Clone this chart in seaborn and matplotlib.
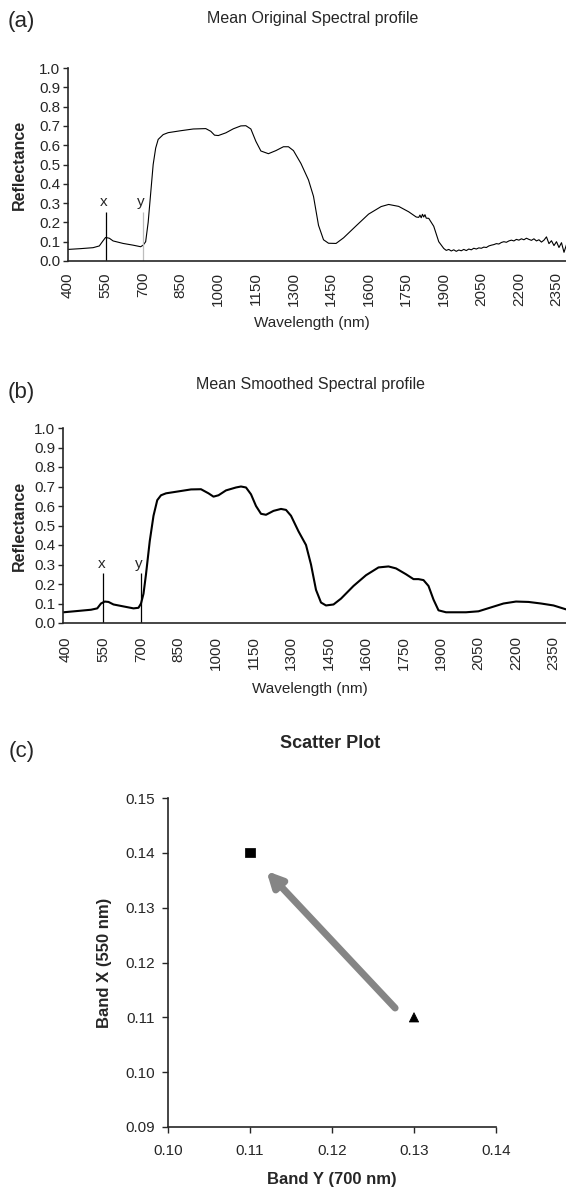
import matplotlib
matplotlib.use('Agg')
import matplotlib.pyplot as plt
import matplotlib.ticker
import pandas as pd
import seaborn as sns

# ---- data ----
wavelength_orig = [400, 450, 500, 525, 540, 550, 565, 580, 620, 660, 690, 700, 710, 720, 730, 740, 750, 760,
                   780, 800, 850, 900, 950, 970, 985, 1000, 1030, 1060, 1090, 1110, 1130, 1150, 1170, 1200,
                   1230, 1260, 1280, 1300, 1330, 1360, 1380, 1400, 1420, 1440, 1470, 1500, 1550, 1600, 1650,
                   1680, 1720, 1760, 1790, 1800, 1805, 1810, 1815, 1820, 1825, 1830, 1840, 1860, 1880,
                   1900, 1910, 1920, 1930, 1940, 1950, 1960, 1970, 1980, 1990, 2000, 2010, 2020, 2030, 2040,
                   2050, 2060, 2070, 2080, 2090, 2100, 2110, 2120, 2130, 2140, 2150, 2160, 2170, 2180, 2190,
                   2200, 2210, 2220, 2230, 2240, 2250, 2260, 2270, 2280, 2290, 2300, 2310, 2320, 2330, 2340,
                   2350, 2360, 2370, 2380, 2390]
reflect_orig = [0.060, 0.064, 0.069, 0.078, 0.105, 0.122, 0.118, 0.104, 0.091, 0.082, 0.074, 0.082, 0.100,
                0.200, 0.350, 0.500, 0.585, 0.630, 0.655, 0.665, 0.675, 0.684, 0.686, 0.672, 0.652, 0.650,
                0.664, 0.685, 0.700, 0.701, 0.684, 0.620, 0.570, 0.556, 0.572, 0.592, 0.592, 0.572, 0.505,
                0.420, 0.335, 0.185, 0.110, 0.092, 0.091, 0.120, 0.182, 0.243, 0.282, 0.293, 0.283, 0.255,
                0.228, 0.226, 0.238, 0.224, 0.242, 0.228, 0.240, 0.222, 0.221, 0.180, 0.100,
                0.065, 0.055, 0.060, 0.052, 0.058, 0.050, 0.057, 0.053, 0.060, 0.054, 0.062, 0.058, 0.066,
                0.062, 0.068, 0.066, 0.072, 0.070, 0.078, 0.082, 0.085, 0.090, 0.088, 0.096, 0.100, 0.097,
                0.104, 0.108, 0.104, 0.112, 0.108, 0.115, 0.110, 0.118, 0.112, 0.107, 0.115, 0.104, 0.110,
                0.098, 0.108, 0.125, 0.090, 0.105, 0.080, 0.100, 0.070, 0.095, 0.045, 0.085]

wavelength_smooth = [390, 450, 500, 525, 540, 555, 570, 590, 630, 670, 690, 700, 710, 720, 735, 750, 765, 780,
                     800, 850, 900, 940, 970, 990, 1010, 1040, 1080, 1100, 1120, 1140, 1160, 1180, 1200, 1230,
                     1260, 1280, 1300, 1330, 1360, 1380, 1400, 1420, 1440, 1470, 1500, 1550, 1600, 1650, 1690,
                     1720, 1760, 1790, 1810, 1830, 1850, 1870, 1890, 1920, 2000, 2050, 2100, 2150, 2200, 2250,
                     2300, 2350, 2400]
reflect_smooth = [0.055, 0.062, 0.068, 0.075, 0.100, 0.110, 0.108, 0.095, 0.085, 0.075, 0.078, 0.100, 0.150,
                  0.250, 0.420, 0.550, 0.630, 0.655, 0.665, 0.675, 0.685, 0.686, 0.665, 0.648, 0.655, 0.680,
                  0.695, 0.700, 0.695, 0.660, 0.600, 0.560, 0.555, 0.575, 0.585, 0.580, 0.550, 0.470, 0.400,
                  0.300, 0.170, 0.105, 0.090, 0.095, 0.125, 0.190, 0.245, 0.285, 0.290, 0.280, 0.250, 0.225,
                  0.225, 0.220, 0.190, 0.120, 0.065, 0.055, 0.055, 0.060, 0.080, 0.100, 0.110, 0.108, 0.100,
                  0.090, 0.070]

band_marks = [550, 700]
band_names = ['x', 'y']
mark_top = 0.255

wl_ticks = [400, 550, 700, 850, 1000, 1150, 1300, 1450, 1600, 1750, 1900, 2050, 2200, 2350]
refl_ticks = [0.0, 0.1, 0.2, 0.3, 0.4, 0.5, 0.6, 0.7, 0.8, 0.9, 1.0]

band_y = [0.11, 0.13]
band_x = [0.14, 0.11]
point_kind = ['smoothed', 'original']
arrow_from = (0.1277, 0.1117)
arrow_to = (0.1120, 0.1367)
scatter_xticks = [0.10, 0.11, 0.12, 0.13, 0.14]
scatter_yticks = [0.09, 0.10, 0.11, 0.12, 0.13, 0.14, 0.15]

sns.set_style('ticks')
plt.rcParams['font.family'] = ['Liberation Sans', 'DejaVu Sans']

W, H = 566, 1189
fig = plt.figure(figsize=(W / 100, H / 100), dpi=100)


def px_rect(left, top, right, bottom):
    return [left / W, 1 - bottom / H, (right - left) / W, (bottom - top) / H]


def spectrum(rect, wl, refl, lw, ymark_color, xmin, xmax, xpad):
    ax = fig.add_axes(rect)
    df = pd.DataFrame({'Wavelength': wl, 'Reflectance': refl})
    sns.lineplot(data=df, x='Wavelength', y='Reflectance', ax=ax, color='black', lw=lw)
    ax.vlines(band_marks, 0, mark_top, colors=['black', ymark_color], lw=0.9)
    for pos, name in zip(band_marks, band_names):
        ax.text(pos - 8, mark_top + 0.012, name, ha='center', va='bottom', fontsize=11)
    ax.set_xlim(xmin, xmax)
    ax.set_ylim(0, 1.0)
    ax.set_xticks(wl_ticks)
    ax.set_yticks(refl_ticks)
    ax.yaxis.set_major_formatter(matplotlib.ticker.FormatStrFormatter('%.1f'))
    ax.tick_params(axis='x', length=0, labelsize=11, labelrotation=90, pad=xpad)
    ax.tick_params(axis='y', length=3.5, width=1, labelsize=11, pad=2)
    sns.despine(ax=ax)
    for s in ['left', 'bottom']:
        ax.spines[s].set_linewidth(1.2)
    ax.set_xlabel('Wavelength (nm)', fontsize=11)
    ax.set_ylabel('Reflectance', fontsize=11.5, fontweight='bold')
    return ax


ax_a = spectrum(px_rect(68, 68, 566, 261), wavelength_orig, reflect_orig, 0.8, '#bdbdbd', 400, 2388, 8)
ax_a.xaxis.set_label_coords(0.49, -0.285)
ax_a.yaxis.set_label_coords(-0.082, 0.5)

ax_b = spectrum(px_rect(63, 428, 566, 623), wavelength_smooth, reflect_smooth, 1.5, 'black', 388, 2400, 9.5)
ax_b.xaxis.set_label_coords(0.49, -0.305)
ax_b.yaxis.set_label_coords(-0.072, 0.5)

fig.text(8 / W, 1 - 22 / H, '(a)', fontsize=16, va='center', ha='left')
fig.text(313 / W, 1 - 19 / H, 'Mean Original Spectral profile', fontsize=11.5, va='center', ha='center')
fig.text(8 / W, 1 - 392 / H, '(b)', fontsize=16, va='center', ha='left')
fig.text(310 / W, 1 - 384 / H, 'Mean Smoothed Spectral profile', fontsize=11.5, va='center', ha='center')

# ---- scatter panel ----
ax_c = fig.add_axes(px_rect(168, 798, 496, 1127))
ax_c.annotate('', xy=arrow_to, xytext=arrow_from,
              arrowprops=dict(arrowstyle='-|>,head_width=0.45,head_length=0.9', lw=5,
                              color='#858585', shrinkA=0, shrinkB=0))
sns.scatterplot(x=band_y, y=band_x, style=point_kind, markers={'smoothed': 's', 'original': '^'},
                color='black', s=45, edgecolor='black', legend=False, ax=ax_c, zorder=3)
ax_c.set_xlim(0.10, 0.14)
ax_c.set_ylim(0.09, 0.15)
ax_c.set_xticks(scatter_xticks)
ax_c.set_yticks(scatter_yticks)
ax_c.xaxis.set_major_formatter(matplotlib.ticker.FormatStrFormatter('%.2f'))
ax_c.yaxis.set_major_formatter(matplotlib.ticker.FormatStrFormatter('%.2f'))
ax_c.tick_params(length=4.5, width=1, labelsize=11)
ax_c.tick_params(axis='x', pad=8)
ax_c.tick_params(axis='y', pad=5)
sns.despine(ax=ax_c)
for s in ['left', 'bottom']:
    ax_c.spines[s].set_linewidth(1.2)
ax_c.set_xlabel('Band Y (700 nm)', fontsize=12, fontweight='bold')
ax_c.set_ylabel('Band X (550 nm)', fontsize=12, fontweight='bold')
ax_c.xaxis.set_label_coords(0.5, -0.137)
ax_c.yaxis.set_label_coords(-0.17, 0.5)

fig.text(9 / W, 1 - 752 / H, '(c)', fontsize=16, va='center', ha='left')
fig.text(330 / W, 1 - 743 / H, 'Scatter Plot', fontsize=13, fontweight='bold', va='center', ha='center')

fig.savefig('out.png', dpi=100)
